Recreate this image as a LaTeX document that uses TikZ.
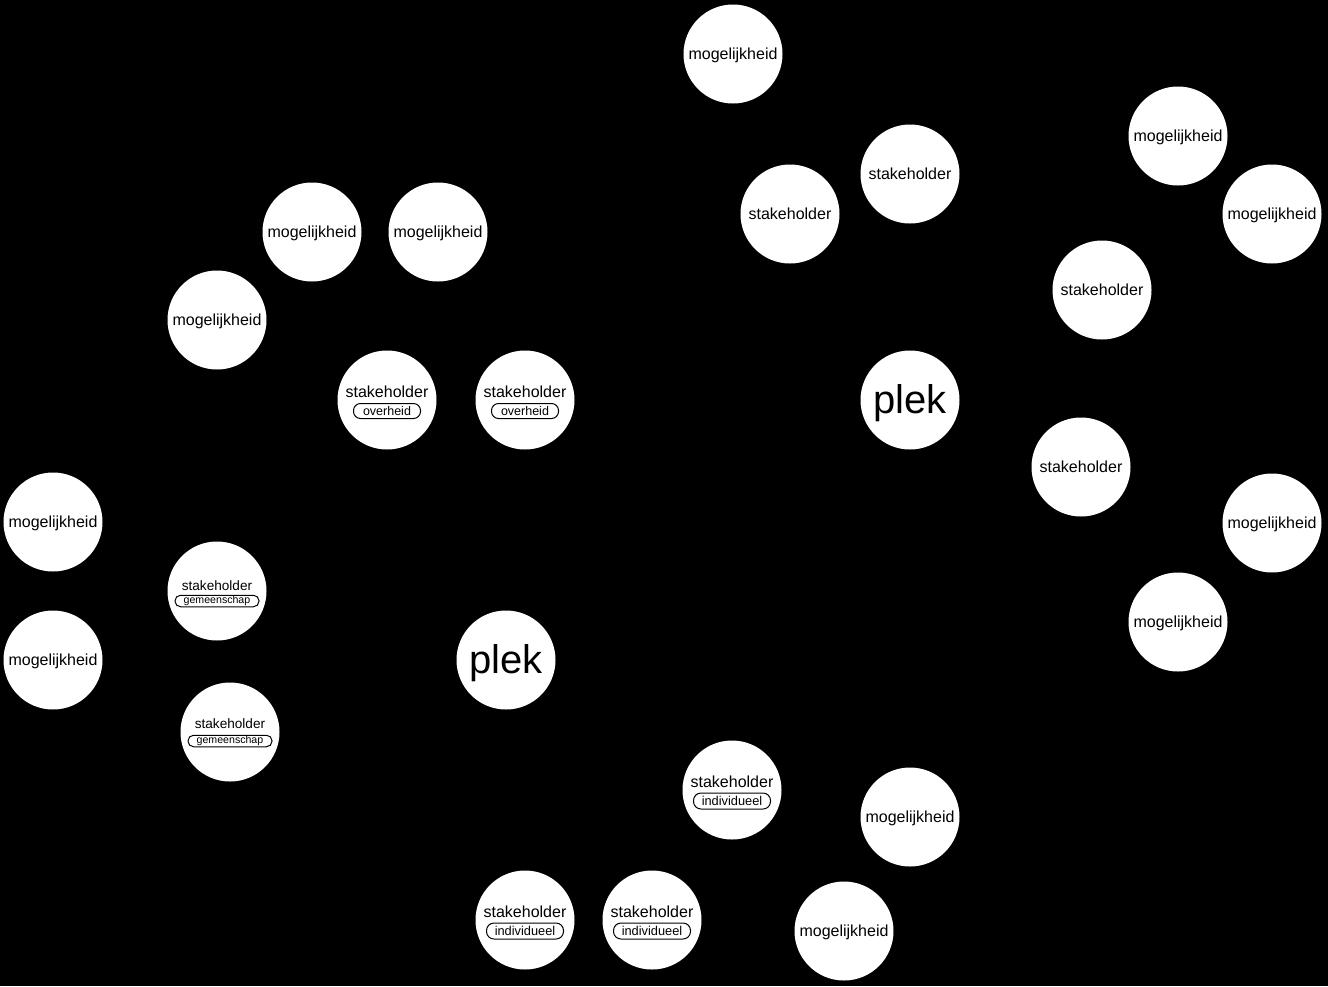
\documentclass[tikz,border=0pt]{standalone}
\usepackage{fontspec}
\setmainfont{Liberation Sans}
\tikzset{
 bub/.style={circle, fill=white, minimum size=99pt, inner sep=0pt, text height=14.5pt, text depth=3.4pt, font=\fontsize{16}{18}\selectfont},
 big/.style={bub, text height=35pt, text depth=8.4pt, font=\fontsize{40}{44}\selectfont},
 lbl/.style={inner sep=0pt, font=\fontsize{16}{18}\selectfont},
 slbl/.style={inner sep=0pt, font=\fontsize{13.6}{15}\selectfont},
 pill/.style={rectangle, draw=black, line width=1pt, inner sep=0pt, minimum width=67pt, minimum height=15pt, rounded corners=7pt, font=\fontsize{12.5}{14}\selectfont},
 ipill/.style={pill, minimum width=77pt, minimum height=16pt, rounded corners=7.5pt, font=\fontsize{12.8}{14}\selectfont},
 gpill/.style={pill, minimum width=84pt, minimum height=11.5pt, rounded corners=5.5pt, font=\fontsize{10.6}{12}\selectfont},
}
\begin{document}
\begin{tikzpicture}[x=1pt,y=-1pt]
\fill[black] (0,0) rectangle (1328,986);
\useasboundingbox (0,0) rectangle (1328,986);
% right cluster
\node[bub] (m1) at (733,54) {mogelijkheid};
\node[bub] (s1) at (910,174) {stakeholder};
\node[bub] (s2) at (790,214) {stakeholder};
\node[bub] (m2) at (1178,136) {mogelijkheid};
\node[bub] (m3) at (1272,214) {mogelijkheid};
\node[bub] (s3) at (1102,290) {stakeholder};
\node[big] (p1) at (910,400) {plek};
\node[bub] (s4) at (1081,467) {stakeholder};
\node[bub] (m4) at (1272,523) {mogelijkheid};
\node[bub] (m5) at (1178,622) {mogelijkheid};
% left cluster
\node[bub] (m6) at (312,232) {mogelijkheid};
\node[bub] (m7) at (438,232) {mogelijkheid};
\node[bub] (m8) at (217,320) {mogelijkheid};
\node[bub] (o1) at (387,400) {};
\node[lbl] (o1t) at ([yshift=8pt]o1.center) {stakeholder};
\node[pill] (o1p) at ([yshift=-11pt]o1.center) {overheid};
\node[bub] (o2) at (525,400) {};
\node[lbl] (o2t) at ([yshift=8pt]o2.center) {stakeholder};
\node[pill] (o2p) at ([yshift=-11pt]o2.center) {overheid};
\node[bub] (m9) at (53,522) {mogelijkheid};
\node[bub] (m10) at (53,660) {mogelijkheid};
\node[bub] (g1) at (217,591) {};
\node[slbl] (g1t) at ([yshift=5pt]g1.center) {stakeholder};
\node[gpill] (g1p) at ([yshift=-10pt]g1.center) {gemeenschap};
\node[bub] (g2) at (230,732) {};
\node[slbl] (g2t) at ([yshift=8pt]g2.center) {stakeholder};
\node[gpill] (g2p) at ([yshift=-9pt]g2.center) {gemeenschap};
\node[big] (p2) at (506,660) {plek};
% bottom cluster
\node[bub] (i1) at (732,790) {};
\node[lbl] (i1t) at ([yshift=8pt]i1.center) {stakeholder};
\node[ipill] (i1p) at ([yshift=-11pt]i1.center) {individueel};
\node[bub] (m11) at (910,817) {mogelijkheid};
\node[bub] (m12) at (844,931) {mogelijkheid};
\node[bub] (i2) at (525,920) {};
\node[lbl] (i2t) at ([yshift=8pt]i2.center) {stakeholder};
\node[ipill] (i2p) at ([yshift=-11pt]i2.center) {individueel};
\node[bub] (i3) at (652,920) {};
\node[lbl] (i3t) at ([yshift=8pt]i3.center) {stakeholder};
\node[ipill] (i3p) at ([yshift=-11pt]i3.center) {individueel};
\end{tikzpicture}
\end{document}
